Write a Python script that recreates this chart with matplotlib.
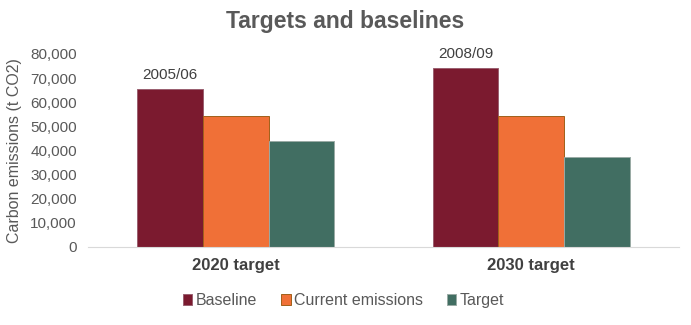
import matplotlib.pyplot as plt
import numpy as np

plt.rcParams['font.family'] = ['Liberation Sans', 'DejaVu Sans']

categories = ["2020 target", "2030 target"]
series_names = ["Baseline", "Current emissions", "Target"]
baseline = [65500, 74100]
current = [54400, 54400]
target = [44100, 37200]
baseline_years = ["2005/06", "2008/09"]

colors = ["#7B1A2F", "#F07037", "#416E62"]
edges = ["#9a6070", "#a0601a", "#9aaba5"]
text_col = "#595959"

fig = plt.figure(figsize=(6.91, 3.25), dpi=100)
ax = fig.add_axes([0.1274, 0.24, 0.855, 0.594])

x = np.arange(len(categories))
w = 0.222
for i, (vals, name) in enumerate(zip([baseline, current, target], series_names)):
    ax.bar(x + (i - 1) * w, vals, width=w, color=colors[i], edgecolor=edges[i],
           linewidth=0.7, label=name)

for xi, val, lab in zip(x, baseline, baseline_years):
    ax.annotate(lab, (xi - w, val), xytext=(0, 5), textcoords="offset points",
                ha="center", va="bottom", fontsize=11, color="#404040")

ax.set_xlim(-0.5, 1.5)
ax.set_ylim(0, 80000)
ax.set_yticks(np.arange(0, 80001, 10000))
ax.set_yticklabels([f"{v:,}" for v in range(0, 80001, 10000)])
ax.set_xticks(x)
ax.set_xticklabels(categories, fontweight="bold", fontsize=12, color="#404040")
ax.tick_params(axis="y", length=0, labelsize=11, colors=text_col, pad=8)
ax.tick_params(axis="x", length=0, pad=8)

for s in ["top", "right", "left"]:
    ax.spines[s].set_visible(False)
ax.spines["bottom"].set_color("#d9d9d9")

ax.set_ylabel("Carbon emissions (t CO2)", fontsize=11.5, color=text_col, labelpad=6)
fig.suptitle("Targets and baselines", fontsize=16.5, fontweight="bold", color=text_col, y=0.97)

fig.legend(loc="center", bbox_to_anchor=(0.497, 0.075), ncol=3, frameon=False,
           fontsize=11.5, handlelength=0.6, handleheight=0.6, handletextpad=0.2,
           columnspacing=1.5, labelcolor=text_col)

fig.savefig("out.png", dpi=100)
